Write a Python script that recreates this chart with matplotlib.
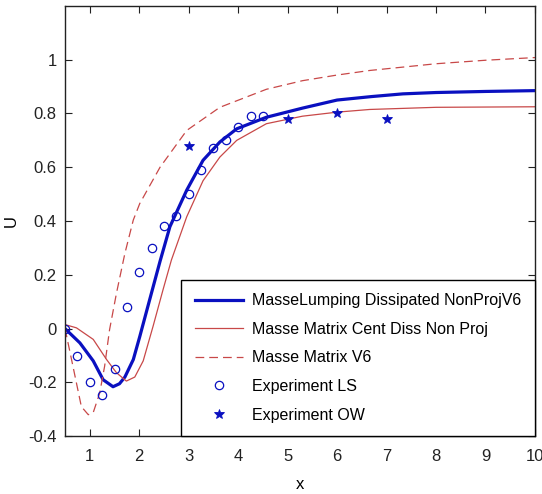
import matplotlib
matplotlib.use("Agg")
import matplotlib.pyplot as plt

plt.rcParams['font.family'] = ['Liberation Sans', 'DejaVu Sans']

# MasseLumping Dissipated NonProjV6
x_lump = [0.5, 0.8, 1.07, 1.27, 1.47, 1.6, 1.71, 1.88, 2.01, 2.21, 2.42, 2.62, 2.96,
          3.29, 3.63, 3.97, 4.57, 5.3, 6.0, 6.7, 7.33, 8.0, 9.0, 10.0]
u_lump = [0.0, -0.053, -0.12, -0.19, -0.216, -0.205, -0.18, -0.115, -0.03, 0.107, 0.25, 0.379, 0.515,
          0.626, 0.694, 0.743, 0.786, 0.82, 0.85, 0.863, 0.873, 0.878, 0.882, 0.885]

# Masse Matrix Cent Diss Non Proj
x_cent = [0.5, 0.73, 1.07, 1.34, 1.54, 1.74, 1.91, 2.08, 2.28, 2.48, 2.65, 2.96,
          3.29, 3.63, 3.97, 4.57, 5.3, 6.0, 6.66, 8.0, 9.0, 10.0]
u_cent = [0.015, 0.003, -0.04, -0.115, -0.164, -0.195, -0.18, -0.12, 0.009, 0.144, 0.255, 0.416,
          0.55, 0.638, 0.70, 0.762, 0.79, 0.805, 0.815, 0.823, 0.824, 0.825]

# Masse Matrix V6
x_v6 = [0.5, 0.66, 0.83, 0.97, 1.07, 1.2, 1.3, 1.4, 1.54, 1.71, 1.88, 2.01, 2.42,
        2.96, 3.63, 4.57, 5.3, 6.0, 6.66, 8.0, 9.0, 10.0]
u_v6 = [0.0, -0.14, -0.29, -0.32, -0.312, -0.24, -0.14, -0.004, 0.132, 0.28, 0.404, 0.465, 0.60,
        0.737, 0.823, 0.89, 0.922, 0.943, 0.96, 0.985, 0.998, 1.008]

# Experiment LS
x_ls = [0.5, 0.75, 1.0, 1.25, 1.5, 1.75, 2.0, 2.25, 2.5, 2.75, 3.0, 3.25, 3.5, 3.75, 4.0, 4.25, 4.5]
u_ls = [0.0, -0.10, -0.20, -0.245, -0.15, 0.08, 0.21, 0.30, 0.38, 0.42, 0.50, 0.59, 0.67, 0.70, 0.75, 0.79, 0.79]

# Experiment OW
x_ow = [3.0, 5.0, 6.0, 7.0]
u_ow = [0.68, 0.78, 0.80, 0.78]

blue = '#0a10c0'
red = '#c84848'

fig = plt.figure(figsize=(5.42, 4.94), dpi=100)
ax = fig.add_axes([0.120, 0.117, 0.867, 0.871])

ax.plot(x_lump, u_lump, color=blue, linewidth=2.3, label='MasseLumping Dissipated NonProjV6')
ax.plot(x_cent, u_cent, color=red, linewidth=0.9, label='Masse Matrix Cent Diss Non Proj')
ax.plot(x_v6, u_v6, color=red, linewidth=0.9, linestyle=(0, (7, 4)), label='Masse Matrix V6')
ax.plot(x_ls, u_ls, linestyle='none', marker='o', markersize=6, markerfacecolor='none',
        markeredgecolor=blue, markeredgewidth=0.9, label='Experiment LS')
ax.plot(x_ow, u_ow, linestyle='none', marker='*', markersize=7, color=blue,
        markeredgewidth=0.6, label='Experiment OW')

ax.set_xlim(0.5, 10)
ax.set_ylim(-0.4, 1.2)
ax.set_xticks(range(1, 11))
ax.set_xticklabels([str(v) for v in range(1, 11)])
ax.set_yticks([-0.4, -0.2, 0, 0.2, 0.4, 0.6, 0.8, 1.0])
ax.set_yticklabels(['-0.4', '-0.2', '0', '0.2', '0.4', '0.6', '0.8', '1'])
ax.tick_params(direction='in', length=5, width=0.8, top=True, right=True,
               labelsize=12, colors='#222222')
ax.tick_params(axis='x', pad=9)
ax.tick_params(axis='y', pad=6)
for s in ax.spines.values():
    s.set_linewidth(1.0)
    s.set_color('#222222')

ax.set_xlabel('x', fontsize=12)
ax.set_ylabel('U', fontsize=12)
ax.xaxis.set_label_coords(0.5, -0.095)
ax.yaxis.set_label_coords(-0.098, 0.5)

leg = ax.legend(loc='lower right', fontsize=11.5, frameon=True, fancybox=False,
                edgecolor='black', framealpha=1, borderaxespad=0, handlelength=3.0,
                handletextpad=0.6, labelspacing=0.85, borderpad=0.85, numpoints=1)
leg.get_frame().set_linewidth(1.0)

fig.savefig('out.png', dpi=100)
